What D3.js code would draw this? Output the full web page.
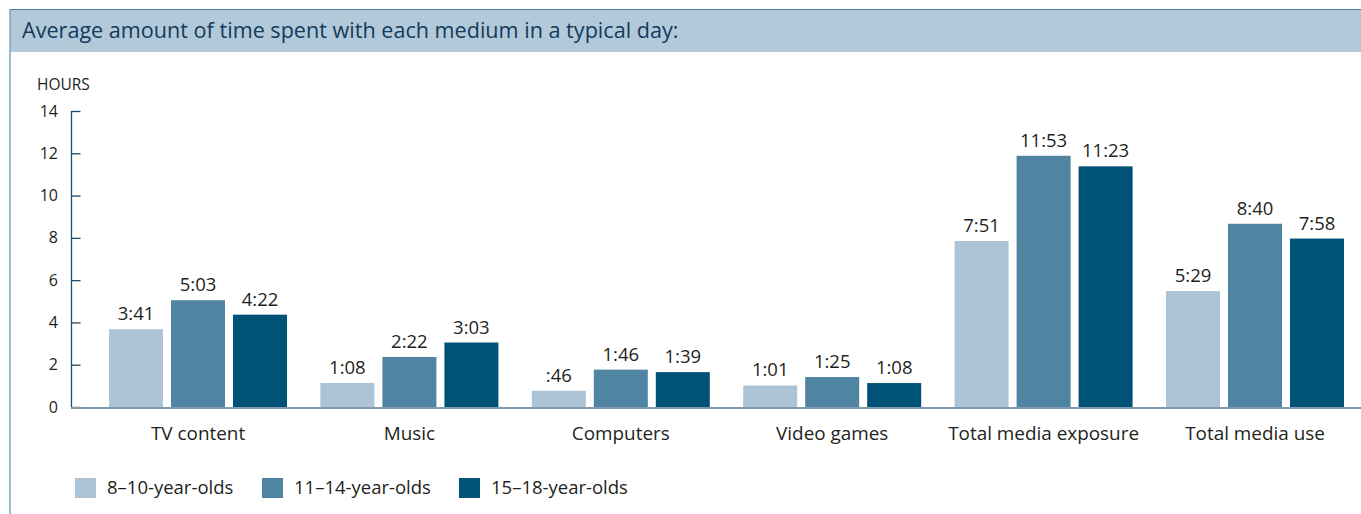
<!DOCTYPE html>
<html>
<head>
<meta charset="utf-8">
<script src="https://cdn.jsdelivr.net/npm/d3@7"></script>
<style>
  html, body { margin: 0; padding: 0; background: #fff; }
  svg { display: block; font-family: "Open Sans", "Noto Sans", sans-serif; }
</style>
</head>
<body>
<svg id="chart" width="1361" height="514"></svg>
<script>
// ---- data ----
const categories = ["TV content", "Music", "Computers", "Video games", "Total media exposure", "Total media use"];
const seriesNames = ["8–10-year-olds", "11–14-year-olds", "15–18-year-olds"];
const ages8to10  = [3.683, 1.133, 0.767, 1.017, 7.850, 5.483];
const ages11to14 = [5.050, 2.367, 1.767, 1.417, 11.883, 8.667];
const ages15to18 = [4.367, 3.050, 1.650, 1.133, 11.383, 7.967];
const labels8to10  = ["3:41", "1:08", ":46", "1:01", "7:51", "5:29"];
const labels11to14 = ["5:03", "2:22", "1:46", "1:25", "11:53", "8:40"];
const labels15to18 = ["4:22", "3:03", "1:39", "1:08", "11:23", "7:58"];
const yTicks = [0, 2, 4, 6, 8, 10, 12, 14];
const titleText = "Average amount of time spent with each medium in a typical day:";
const yUnit = "HOURS";

const seriesValues = [ages8to10, ages11to14, ages15to18];
const seriesLabels = [labels8to10, labels11to14, labels15to18];
const colors = ["#adc4d7", "#4f84a3", "#005377"];

const svg = d3.select("#chart");
const W = 1361, H = 514;

// frame
svg.append("rect").attr("x", 10).attr("y", 9).attr("width", W - 10).attr("height", 43).attr("fill", "#b2c9d9");
svg.append("line").attr("x1", 10).attr("x2", W).attr("y1", 9.5).attr("y2", 9.5).attr("stroke", "#4d7f9f").attr("stroke-width", 1);
svg.append("line").attr("x1", 10).attr("x2", 10).attr("y1", 9).attr("y2", H).attr("stroke", "#7aa6c2").attr("stroke-width", 1.5);

svg.append("text").attr("x", 22).attr("y", 38).attr("font-size", 21.6).attr("fill", "#143a5c").text(titleText);

// scales
const y = d3.scaleLinear().domain([0, 14]).range([407, 111]);
const x0 = d3.scaleBand().domain(categories).range([109, 1344]).paddingInner(0.158).paddingOuter(0);
const x1 = d3.scaleBand().domain(d3.range(seriesNames.length)).range([0, x0.bandwidth()]).paddingInner(8 / 62).paddingOuter(0);

// y axis
const yAxis = d3.axisRight(y).tickValues(yTicks).tickSize(9).tickFormat("");
const gy = svg.append("g").attr("transform", "translate(71.5,0)").call(yAxis);
gy.select(".domain").attr("stroke", "#1f4b6b").attr("stroke-width", 1.3).attr("d", `M0,${y(0)}V${y(14)}`);
gy.selectAll(".tick line").attr("stroke", "#1f4b6b").attr("stroke-width", 1.3);

svg.append("g").selectAll("text").data(yTicks).join("text")
  .attr("x", 58).attr("y", d => y(d)).attr("dy", "0.35em")
  .attr("text-anchor", "end").attr("font-size", 16).attr("fill", "#231f20")
  .text(d => d);

svg.append("text").attr("x", 37).attr("y", 90).attr("font-size", 15.5).attr("fill", "#231f20").text(yUnit);

// bars
const groups = svg.append("g").selectAll("g").data(categories).join("g")
  .attr("transform", d => `translate(${x0(d)},0)`);

groups.each(function(cat, ci) {
  const g = d3.select(this);
  seriesValues.forEach((vals, si) => {
    g.append("rect")
      .attr("x", x1(si)).attr("width", x1.bandwidth())
      .attr("y", y(vals[ci])).attr("height", y(0) - y(vals[ci]))
      .attr("fill", colors[si]);
    g.append("text")
      .attr("x", x1(si) + x1.bandwidth() / 2).attr("y", y(vals[ci]) - 9)
      .attr("text-anchor", "middle").attr("font-size", 18.5).attr("fill", "#231f20")
      .text(seriesLabels[si][ci]);
  });
});

// x baseline
svg.append("line").attr("x1", 71).attr("x2", W).attr("y1", y(0) + 1).attr("y2", y(0) + 1)
  .attr("stroke", "#7f9bad").attr("stroke-width", 2.2);

// category labels
const xAxis = d3.axisBottom(x0).tickSize(0).tickPadding(0);
const gx = svg.append("g").attr("transform", `translate(0,${y(0)})`).call(xAxis);
gx.select(".domain").remove();
gx.selectAll(".tick text").attr("y", 33).attr("dy", 0).attr("font-size", 18.9)
  .attr("font-family", "'Open Sans', 'Noto Sans', sans-serif").attr("fill", "#231f20");

// legend
const legendX = [75, 262, 459];
const lg = svg.append("g").selectAll("g").data(seriesNames).join("g")
  .attr("transform", (d, i) => `translate(${legendX[i]},478)`);
lg.append("rect").attr("width", 21).attr("height", 20).attr("fill", (d, i) => colors[i]);
lg.append("text").attr("x", 32).attr("y", 10).attr("dy", "0.35em").attr("font-size", 18.5).attr("fill", "#231f20").text(d => d);
</script>
</body>
</html>
